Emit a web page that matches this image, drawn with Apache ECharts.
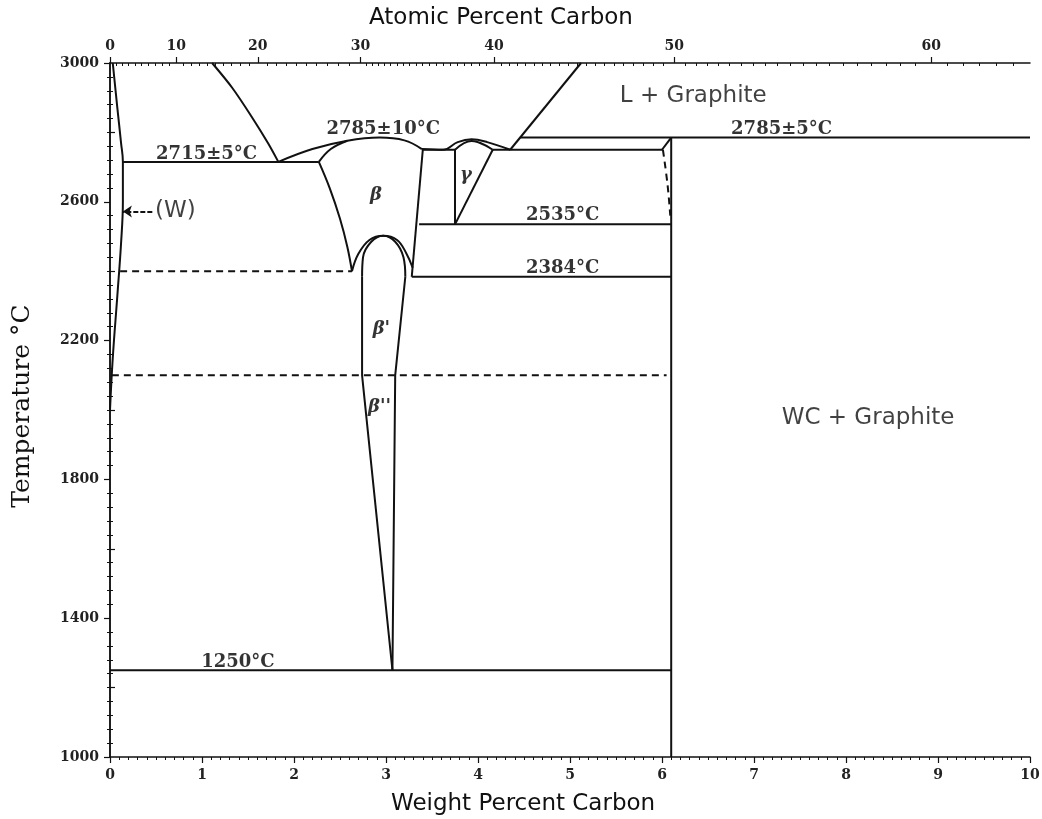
<!DOCTYPE html>
<html>
<head>
<meta charset="utf-8">
<script src="https://cdn.jsdelivr.net/npm/echarts@6/dist/echarts.min.js"></script>
<style>
  html, body { margin: 0; padding: 0; background: #fff; }
  #chart { width: 1042px; height: 819px; }
</style>
</head>
<body>
<div id="chart"></div>
<script>
// W–C phase diagram: temperature (°C) vs weight percent carbon.

// ---- tick labels ----
const tempTicks = [1000, 1400, 1800, 2200, 2600, 3000];
const atomicTickLabels = [0, 10, 20, 30, 40, 50, 60];

// ---- phase boundaries, [wt% C, °C] ----
const wBoundary      = [[0.03, 3000], [0.08, 2870], [0.12, 2770], [0.14, 2715], [0.14, 2600], [0.12, 2480], [0.08, 2330], [0.03, 2150], [0, 2000]];
const eutectic2715   = [[0.14, 2715], [2.27, 2715]];
const liquidusLeft   = [[1.11, 3000], [1.33, 2928], [1.55, 2841], [1.72, 2768], [1.83, 2715]];
const liquidusBeta   = [[1.83, 2715], [2.2, 2752], [2.58, 2776], [2.93, 2785], [3.2, 2777], [3.39, 2752]];
const solidusBeta    = [[2.27, 2715], [2.4, 2752], [2.58, 2776]];
const betaLeft       = [[2.27, 2715], [2.39, 2638], [2.5, 2551], [2.58, 2470], [2.63, 2400]];
const betaRight      = [[3.40, 2750], [3.28, 2384]];
const domeOuter      = [[2.63, 2400], [2.70, 2450], [2.82, 2490], [2.97, 2502], [3.12, 2490], [3.22, 2452], [3.29, 2410]];
const betaPrimeTop   = [[2.74, 2384], [2.75, 2440], [2.84, 2485], [2.97, 2502], [3.10, 2485], [3.19, 2440], [3.21, 2384]];
const betaPrimeLeft  = [[2.74, 2384], [2.74, 2100], [3.07, 1250]];
const betaPrimeRight = [[3.21, 2384], [3.1, 2100], [3.07, 1250]];
const eutectoid2384  = [[3.28, 2384], [6.1, 2384]];
const eutectoid2535  = [[3.36, 2535], [6.1, 2535]];
const eutectic2750a  = [[3.40, 2750], [3.75, 2750]];
const gammaLeft      = [[3.75, 2750], [3.75, 2535]];
const gammaRight     = [[3.75, 2535], [4.16, 2750]];
const liquidusMid    = [[3.39, 2752], [3.62, 2750], [3.78, 2772], [3.93, 2780], [4.1, 2772], [4.35, 2750]];
const solidusGamma   = [[3.75, 2750], [3.93, 2775], [4.16, 2750]];
const eutectic2750b  = [[4.16, 2750], [6.0, 2750]];
const liquidusRight  = [[4.35, 2750], [5.12, 3000]];
const peritectic2785 = [[4.46, 2785], [10, 2785]];
const wcSlant        = [[6.0, 2750], [6.1, 2785]];
const wcLine         = [[6.1, 2785], [6.1, 1000]];
const wcDashed       = [[6.01, 2750], [6.06, 2650], [6.09, 2560]];
const eutectoid1250  = [[0, 1250], [6.1, 1250]];
const dashed2400     = [[0.11, 2400], [2.63, 2400]];
const dashed2100     = [[0.02, 2100], [6.05, 2100]];

// ---- annotations, [wt% C, °C, text] ----
const tempLabels   = [[1.05, 2738, '2715±5°C'], [2.97, 2810, '2785±10°C'], [7.3, 2810, '2785±5°C'],
                      [4.92, 2560, '2535°C'], [4.92, 2407, '2384°C'], [1.39, 1272, '1250°C']];
const phaseLabels  = [[2.89, 2618, 'β'], [3.87, 2676, 'γ'], [2.95, 2233, "β'"], [2.93, 2007, "β''"]];
const regionLabels = [[6.34, 2905, 'L + Graphite'], [8.24, 1978, 'WC + Graphite']];
const wLabel       = [[0.49, 2572, '(W)']];
const wArrow       = [[0.46, 2572], [0.14, 2572]];

// atomic % C -> weight % C (W = 183.84, C = 12.011)
const toWt = a => 100 * 12.011 * a / (12.011 * a + 183.84 * (100 - a));
const topMajor = atomicTickLabels.map(toWt);
const topMinor = [];
for (let a = 1; a < 30; a++) if (a % 10) topMinor.push(toWt(a));
for (let a = 30.5; a < 63; a += 0.5) if (a % 10) topMinor.push(toWt(a));

const INK = '#111';
const serif = 'DejaVu Serif';
const sans = 'DejaVu Sans';

function boundary(data, opts = {}) {
  return {
    type: 'line', data, symbol: 'none', silent: true, animation: false,
    smooth: opts.smooth || false,
    lineStyle: { color: INK, width: 2, type: opts.dashed ? [7, 5] : 'solid' },
    z: 3
  };
}

function textSeries(rows, style) {
  return {
    type: 'scatter', symbolSize: 0, silent: true, animation: false,
    data: rows.map(r => ({ value: [r[0], r[1]], name: r[2] })),
    label: Object.assign({ show: true, position: 'inside', formatter: p => p.name, color: '#000' }, style),
    z: 5
  };
}

const chart = echarts.init(document.getElementById('chart'), null, { renderer: 'canvas' });

const axisLineStyle = { color: INK, width: 1.5 };
const tickFont = { fontFamily: serif, fontSize: 14, fontWeight: 'bold', color: '#222' };
const titleFont = { fontFamily: sans, fontSize: 23, fill: '#111' };

chart.setOption({
  backgroundColor: '#fff',
  animation: false,
  grid: { left: 110, right: 12, top: 63, bottom: 62, containLabel: false, outerBoundsMode: 'none' },
  graphic: [
    { type: 'text', left: 369, top: 7, style: Object.assign({ text: 'Atomic Percent Carbon' }, titleFont) },
    { type: 'text', left: 391, top: 793, style: Object.assign({ text: 'Weight Percent Carbon' }, titleFont) },
    {
      type: 'text', x: 10, y: 406, rotation: Math.PI / 2,
      style: { text: 'Temperature °C', fontFamily: serif, fontSize: 25, fill: '#111', align: 'center', verticalAlign: 'top' }
    }
  ],
  xAxis: [
    {
      type: 'value', position: 'bottom', min: 0, max: 10, interval: 1,
      axisLine: { show: true, lineStyle: axisLineStyle },
      axisTick: { show: true, length: 6, lineStyle: { color: INK, width: 1.2 } },
      minorTick: { show: true, splitNumber: 10, length: 3, lineStyle: { color: INK, width: 1 } },
      splitLine: { show: false },
      axisLabel: Object.assign({ margin: 11 }, tickFont)
    },
    {
      type: 'value', position: 'top', min: 0, max: 10,
      axisLine: { show: true, lineStyle: axisLineStyle },
      axisTick: { show: true, length: 6, customValues: topMajor, lineStyle: { color: INK, width: 1.2 } },
      splitLine: { show: false },
      axisLabel: Object.assign({
        margin: 10, customValues: topMajor,
        formatter: v => {
          const i = topMajor.findIndex(w => Math.abs(w - v) < 1e-6);
          return i >= 0 ? String(atomicTickLabels[i]) : '';
        }
      }, tickFont)
    },
    {
      type: 'value', position: 'top', min: 0, max: 10,
      axisLine: { show: false },
      axisTick: { show: true, inside: true, length: 3, customValues: topMinor, lineStyle: { color: INK, width: 1 } },
      axisLabel: { show: false },
      splitLine: { show: false }
    }
  ],
  yAxis: [
    {
      type: 'value', position: 'left', min: 1000, max: 3000, interval: 400,
      axisLine: { show: true, lineStyle: axisLineStyle },
      axisTick: { show: true, length: 6, lineStyle: { color: INK, width: 1.2 } },
      minorTick: { show: true, splitNumber: 10, length: 3, lineStyle: { color: INK, width: 1 } },
      splitLine: { show: false },
      axisLabel: Object.assign({ margin: 11, customValues: tempTicks, formatter: v => String(v) }, tickFont)
    },
    {
      type: 'value', position: 'right', min: 1000, max: 3000, interval: 400,
      axisLine: { show: true, lineStyle: axisLineStyle },
      axisTick: { show: true, length: 5, customValues: [1200, 1600, 2000, 2400, 2800], lineStyle: { color: INK, width: 1.2 } },
      minorTick: { show: true, splitNumber: 10, length: 3, lineStyle: { color: INK, width: 1 } },
      splitLine: { show: false },
      axisLabel: { show: false }
    }
  ],
  series: [
    boundary(wBoundary, { smooth: 0.4 }),
    boundary(eutectic2715),
    boundary(liquidusLeft, { smooth: 0.3 }),
    boundary(liquidusBeta, { smooth: 0.4 }),
    boundary(solidusBeta, { smooth: 0.4 }),
    boundary(betaLeft, { smooth: 0.4 }),
    boundary(betaRight),
    boundary(domeOuter, { smooth: 0.4 }),
    boundary(betaPrimeTop, { smooth: 0.4 }),
    boundary(betaPrimeLeft),
    boundary(betaPrimeRight),
    boundary(eutectoid2384),
    boundary(eutectoid2535),
    boundary(eutectic2750a),
    boundary(gammaLeft),
    boundary(gammaRight),
    boundary(liquidusMid, { smooth: 0.4 }),
    boundary(solidusGamma, { smooth: 0.4 }),
    boundary(eutectic2750b),
    boundary(liquidusRight),
    boundary(peritectic2785),
    boundary(wcSlant),
    boundary(wcLine),
    boundary(wcDashed, { dashed: true, smooth: 0.4 }),
    boundary(eutectoid1250),
    boundary(dashed2400, { dashed: true }),
    boundary(dashed2100, { dashed: true }),
    {
      type: 'lines', coordinateSystem: 'cartesian2d', silent: true, animation: false,
      symbol: ['none', 'arrow'], symbolSize: 9,
      lineStyle: { color: INK, width: 2, type: [5, 2], opacity: 1 },
      data: [{ coords: wArrow }], z: 4
    },
    textSeries(tempLabels, { fontFamily: serif, fontSize: 18, fontWeight: 'bold' }),
    textSeries(phaseLabels, { fontFamily: serif, fontSize: 18, fontStyle: 'italic', fontWeight: 'bold' }),
    textSeries(regionLabels, { fontFamily: sans, fontSize: 23, color: '#111' }),
    textSeries(wLabel, { fontFamily: sans, fontSize: 23, color: '#111', position: 'right', distance: 0 })
  ]
});
</script>
</body>
</html>
